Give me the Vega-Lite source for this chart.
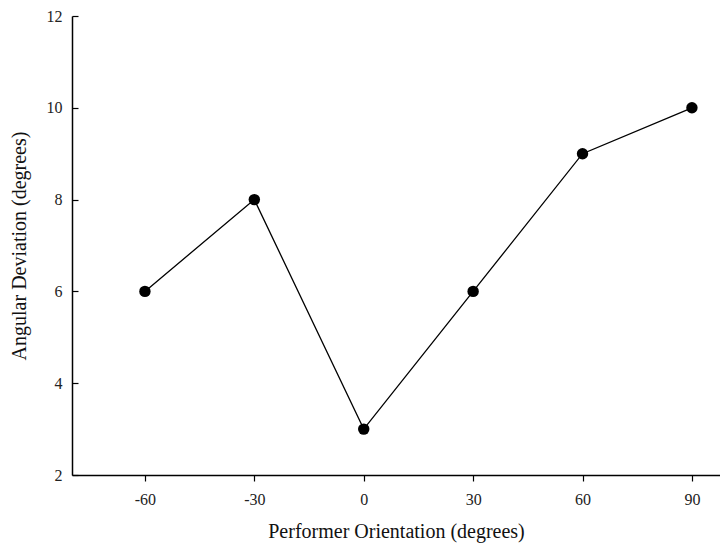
{
  "$schema": "https://vega.github.io/schema/vega-lite/v6.json",
  "width": 648,
  "height": 459,
  "autosize": {"type": "none"},
  "padding": {"left": 72, "top": 16, "right": 0, "bottom": 82},
  "background": "white",
  "config": {
    "view": {"stroke": null},
    "font": "Liberation Serif",
    "axis": {
      "grid": false,
      "domainColor": "black",
      "domainWidth": 1.5,
      "tickColor": "black",
      "tickWidth": 1.2,
      "labelColor": "#222222",
      "titleColor": "#111111",
      "labelFont": "Liberation Serif",
      "titleFont": "Liberation Serif",
      "labelFontSize": 16,
      "titleFontSize": 20,
      "titleFontWeight": "normal"
    }
  },
  "data": {
    "values": [
      {"orientation": -60, "deviation": 6},
      {"orientation": -30, "deviation": 8},
      {"orientation": 0, "deviation": 3},
      {"orientation": 30, "deviation": 6},
      {"orientation": 60, "deviation": 9},
      {"orientation": 90, "deviation": 10}
    ]
  },
  "encoding": {
    "x": {
      "field": "orientation",
      "type": "quantitative",
      "scale": {"domain": [-80, 97.7], "nice": false, "zero": false},
      "axis": {
        "title": "Performer Orientation (degrees)",
        "values": [-60, -30, 0, 30, 60, 90],
        "labelExpr": "'' + datum.value",
        "tickSize": 6,
        "labelPadding": 10,
        "titlePadding": 14
      }
    },
    "y": {
      "field": "deviation",
      "type": "quantitative",
      "scale": {"domain": [2, 12], "nice": false, "zero": false},
      "axis": {
        "title": "Angular Deviation (degrees)",
        "values": [2, 4, 6, 8, 10, 12],
        "tickSize": -6,
        "labelPadding": 16,
        "titlePadding": 17
      }
    }
  },
  "layer": [
    {"mark": {"type": "line", "color": "black", "strokeWidth": 1.3}},
    {"mark": {"type": "point", "filled": true, "color": "black", "opacity": 1, "size": 130}}
  ]
}
